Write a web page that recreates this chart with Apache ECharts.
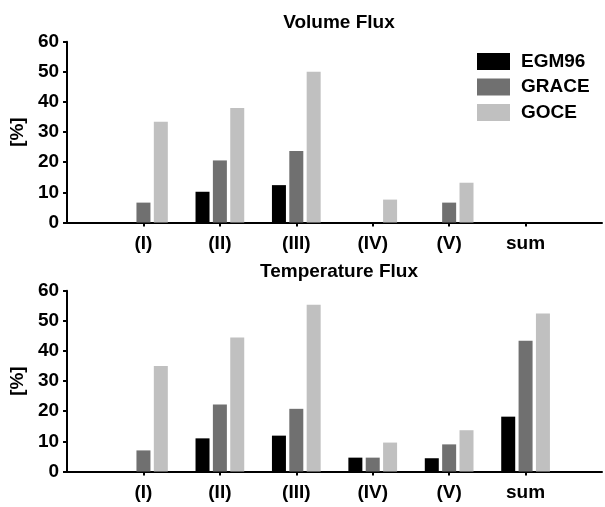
<!DOCTYPE html>
<html>
<head>
<meta charset="utf-8">
<script src="https://cdn.jsdelivr.net/npm/echarts@6/dist/echarts.min.js"></script>
<style>html,body{margin:0;padding:0;background:#fff;}#c{width:605px;height:507px;}</style>
</head>
<body>
<div id="c"></div>
<script>
const categories = ['(I)', '(II)', '(III)', '(IV)', '(V)', 'sum'];
const seriesNames = ['EGM96', 'GRACE', 'GOCE'];
const yTicks = [0, 10, 20, 30, 40, 50, 60];
const volumeEGM96 = [0, 10.2, 12.4, 0, 0, 0];
const volumeGRACE = [6.6, 20.6, 23.7, 0, 6.6, 0];
const volumeGOCE = [33.4, 38.0, 50.0, 7.6, 13.2, 0];
const tempEGM96 = [0, 11.0, 11.9, 4.6, 4.4, 18.2];
const tempGRACE = [7.0, 22.2, 20.8, 4.6, 9.0, 43.4];
const tempGOCE = [35.0, 44.5, 55.3, 9.6, 13.7, 52.4];

const FONT = '"Liberation Sans", Arial, Helvetica, sans-serif';
const colors = ['#000000', '#707070', '#c0c0c0'];
const padCats = [''].concat(categories, ['']);
const pad = arr => ['-'].concat(arr, ['-']);

function xAxis(gi) {
  return {
    type: 'category', gridIndex: gi, data: padCats, boundaryGap: false,
    axisLine: { lineStyle: { color: '#000', width: 2 } },
    axisTick: { length: 4, lineStyle: { color: '#000', width: 2 },
      interval: (i, v) => v !== '' },
    axisLabel: { color: '#000', fontFamily: FONT, fontWeight: 'bold', fontSize: 19,
      lineHeight: 19, margin: 12, interval: 0 },
    splitLine: { show: false }
  };
}
function yAxis(gi) {
  return {
    type: 'value', gridIndex: gi, min: yTicks[0], max: yTicks[yTicks.length - 1], interval: 10,
    name: '[%]', nameLocation: 'middle', nameGap: 35,
    nameTextStyle: { color: '#000', fontFamily: FONT, fontWeight: 'bold', fontSize: 19, lineHeight: 19 },
    axisLine: { show: true, lineStyle: { color: '#000', width: 2 } },
    axisTick: { show: true, length: 4, lineStyle: { color: '#000', width: 2 } },
    axisLabel: { color: '#000', fontFamily: FONT, fontWeight: 'bold', fontSize: 19, margin: 8 },
    splitLine: { show: false }
  };
}
function bar(name, data, gi, ci) {
  return {
    type: 'bar', name: name, xAxisIndex: gi, yAxisIndex: gi, data: pad(data),
    barWidth: 14, barGap: '24%', itemStyle: { color: colors[ci] }
  };
}

const chart = echarts.init(document.getElementById('c'), null, { renderer: 'canvas' });
chart.setOption({
  animation: false,
  backgroundColor: '#fff',
  title: [
    { text: 'Volume Flux', left: 334, top: 8.5, textAlign: 'center',
      textStyle: { color: '#000', fontFamily: FONT, fontWeight: 'bold', fontSize: 19, lineHeight: 19 } },
    { text: 'Temperature Flux', left: 334, top: 257.5, textAlign: 'center',
      textStyle: { color: '#000', fontFamily: FONT, fontWeight: 'bold', fontSize: 19, lineHeight: 19 } }
  ],
  legend: {
    data: seriesNames, orient: 'vertical', left: 477, top: 52, padding: 0,
    itemWidth: 33, itemHeight: 17, itemGap: 6.5, icon: 'rect',
    textStyle: { color: '#000', fontFamily: FONT, fontWeight: 'bold', fontSize: 19, lineHeight: 17,
      padding: [0, 0, 0, 6] }
  },
  grid: [
    { left: 61, right: -3, top: 41.7, height: 180.8 },
    { left: 61, right: -3, top: 290.7, height: 180.8 }
  ],
  xAxis: [xAxis(0), xAxis(1)],
  yAxis: [yAxis(0), yAxis(1)],
  series: [
    bar(seriesNames[0], volumeEGM96, 0, 0),
    bar(seriesNames[1], volumeGRACE, 0, 1),
    bar(seriesNames[2], volumeGOCE, 0, 2),
    bar(seriesNames[0], tempEGM96, 1, 0),
    bar(seriesNames[1], tempGRACE, 1, 1),
    bar(seriesNames[2], tempGOCE, 1, 2)
  ]
});
</script>
</body>
</html>
